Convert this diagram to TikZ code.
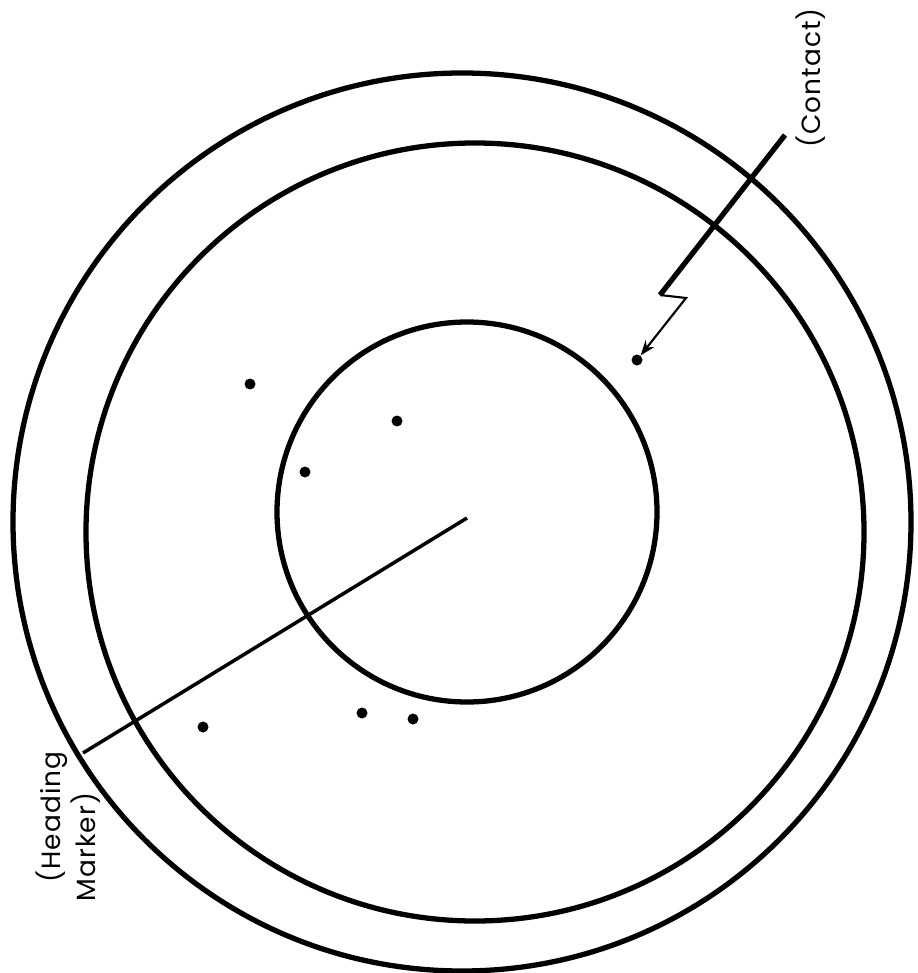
\documentclass[tikz,border=0pt]{standalone}
\usepackage{fontspec}
\setmainfont{Poppins}[LetterSpace=4]
\usetikzlibrary{arrows.meta}

\tikzset{
  ring/.style={line width=3pt},
  blip/.style={circle,fill,inner sep=0pt,minimum size=0.22cm},
  tag/.style={font=\fontsize{15}{17}\selectfont,rotate=90,inner sep=0pt},
}

\begin{document}
\begin{tikzpicture}[x=0.02cm,y=-0.02cm]

\useasboundingbox[fill=white]
(0,0)
rectangle
(917,973);

% scope rings
\draw[ring]
(462,522)
circle
(449);

\draw[ring]
(475,532)
circle
(389);

\draw[ring]
(467,512)
circle
(190);

% heading marker
\coordinate (origin) at (467,518);
\coordinate (rim) at (83,753);

\draw[line width=2pt]
(origin)
--
(rim);

\node[tag]
(heading)
at (52,817)
{(Heading};

\node[tag]
(marker)
at (86,847)
{Marker)};

% echoes
\node[blip] (echoA) at (250,384) {};
\node[blip] (echoB) at (397,421) {};
\node[blip] (echoC) at (305,472) {};
\node[blip] (echoD) at (203,727) {};
\node[blip] (echoE) at (362,713) {};
\node[blip] (echoF) at (413,719) {};
\node[blip] (contact) at (637,360) {};

% contact pointer
\coordinate (lead) at (785,135);
\coordinate (kinkA) at (660,295);
\coordinate (kinkB) at (686,298);

\draw[line width=3pt]
(lead)
--
(kinkA);

\draw[line width=1.2pt,-{Stealth[length=0.3cm,width=0.22cm]}]
(kinkA)
--
(kinkB)
--
(contact);

\node[tag]
(contactlabel)
at (811,78)
{(Contact)};

\end{tikzpicture}
\end{document}
